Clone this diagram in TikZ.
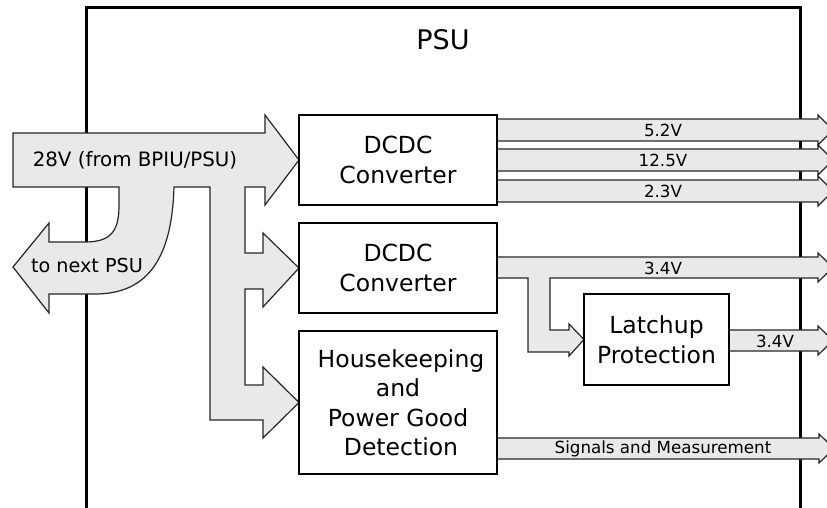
\documentclass[tikz,border=0pt]{standalone}
\usepackage{fontspec}
\setmainfont{DejaVu Sans}
\usetikzlibrary{backgrounds}
\tikzset{
  blk/.style={draw=black, line width=2.4pt, fill=white, inner sep=0pt, outer sep=0pt,
    align=center, font=\fontsize{23.5}{29.5}\selectfont},
  fat/.style={draw=black!85, line width=1.2pt, fill=gray!17, line join=miter},
  lbl/.style={inner sep=0pt, font=\fontsize{16.7}{18}\selectfont},
  frame/.style={draw=black, line width=3pt}
}
\begin{document}
\begin{tikzpicture}[x=1pt,y=-1pt]
\useasboundingbox (0,0) rectangle (827,508);
% blocks
\node[blk, minimum width=198pt, minimum height=90pt] (dc1) at (398,160) {DCDC\\Converter};
\node[blk, minimum width=198pt, minimum height=90pt] (dc2) at (398,268) {DCDC\\Converter};
\node[blk, minimum width=198pt, minimum height=143pt] (hk) at (398,402.5) {\hspace*{6pt}Housekeeping\\and\\Power Good\\\hspace*{6pt}Detection};
\node[blk, minimum width=145pt, minimum height=91pt] (lat) at (656.5,339.5) {Latchup\\Protection};
\node[inner sep=0pt, font=\fontsize{27}{30}\selectfont] (title) at (443,40) {PSU};
\begin{scope}[on background layer]
% PSU frame
\draw[frame] (86,530) -- (86,8) -- (800,8) -- (800,530);
% input power arrow with branches
\draw[fat] (13,133) -- (265,133) -- (265,115) -- (dc1.west) -- (265,205) -- (265,187)
  -- (245,187) -- (245,253) -- (263,253) -- (263,233) -- (dc2.west) -- (263,307) -- (263,289)
  -- (245,289) -- (245,385) -- (263,385) -- (263,367) -- (hk.west) -- (263,438) -- (263,420)
  -- (210,420) -- (210,187) -- (174,187)
  .. controls (172,255) and (150,294) .. (95,294) -- (49,294) -- (49,313) -- (13,267)
  -- (49,223) -- (49,242) -- (85,242) .. controls (112,242) and (119,230) .. (119,205)
  -- (119,187) -- (13,187) -- cycle;
% DCDC 1 outputs
\draw[fat] (dc1.east |- 0,119) -- (818,119) -- (818,115) -- (833,130) -- (818,145) -- (818,141) -- (dc1.east |- 0,141) -- cycle;
\draw[fat] (dc1.east |- 0,149) -- (818,149) -- (818,145) -- (833,160) -- (818,175) -- (818,171) -- (dc1.east |- 0,171) -- cycle;
\draw[fat] (dc1.east |- 0,180) -- (818,180) -- (818,176) -- (833,191) -- (818,206) -- (818,202) -- (dc1.east |- 0,202) -- cycle;
% DCDC 2 output with branch to latchup
\draw[fat] (dc2.east |- 0,257) -- (818,257) -- (818,253) -- (833,267.5) -- (818,282) -- (818,278)
  -- (550,278) -- (550,330) -- (569,330) -- (569,324) -- (lat.west) -- (569,356) -- (569,352)
  -- (528,352) -- (528,278) -- (dc2.east |- 0,278) -- cycle;
% latchup output
\draw[fat] (lat.east |- 0,330) -- (818,330) -- (818,326) -- (833,340.5) -- (818,355) -- (818,351) -- (lat.east |- 0,351) -- cycle;
% signals
\draw[fat] (hk.east |- 0,438) -- (819,438) -- (819,434) -- (834,448.5) -- (819,463) -- (819,459) -- (hk.east |- 0,459) -- cycle;
\end{scope}
% labels
\node[inner sep=0pt, font=\fontsize{19.8}{22}\selectfont] (in) at (135,160) {28V (from BPIU/PSU)};
\node[inner sep=0pt, font=\fontsize{19.2}{22}\selectfont] (next) at (87,266) {to next PSU};
\node[lbl] (v52) at (663,130) {5.2V};
\node[lbl] (v125) at (663,160) {12.5V};
\node[lbl] (v23) at (663,191) {2.3V};
\node[lbl] (v34a) at (663,268) {3.4V};
\node[lbl] (v34b) at (775,341) {3.4V};
\node[lbl] (sig) at (663,448.5) {Signals and Measurement};
\end{tikzpicture}
\end{document}
